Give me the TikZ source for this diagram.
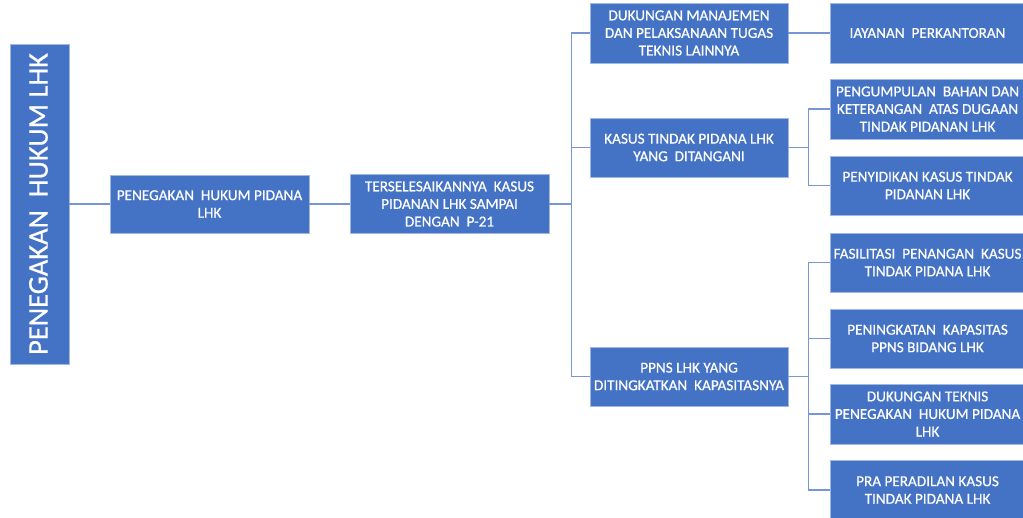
\documentclass[tikz,border=0pt]{standalone}
\usepackage{fontspec}
\setmainfont[FakeBold=0.6]{Carlito}
\definecolor{boxblue}{RGB}{68,114,196}
\definecolor{edgeblue}{RGB}{160,185,228}
\definecolor{linkblue}{RGB}{120,150,212}
\begin{document}
\begin{tikzpicture}[x=1pt,y=-1pt,
  box/.style={fill=boxblue,draw=edgeblue,line width=0.8pt,text=white,align=center,
    inner sep=0pt,font=\fontsize{15.2}{17.6}\selectfont},
  link/.style={draw=linkblue,line width=1.8pt}]
\useasboundingbox (0,0) rectangle (1023,517);
% root
\node[box,minimum width=59pt,minimum height=320pt] (root) at (39.5,204) {};
\node[text=white,rotate=90,font=\fontsize{28.5}{30}\selectfont] (roottxt) at ([xshift=-1pt]root.center) {PENEGAKAN\ \ HUKUM LHK};
% level 2, 3
\node[box,minimum width=199pt,minimum height=58pt] (b2) at (209.5,204) {PENEGAKAN\ \ HUKUM PIDANA\\LHK};
\node[box,minimum width=199pt,minimum height=59pt] (b3) at (449.5,204) {TERSELESAIKANNYA\ \ KASUS\\PIDANAN LHK SAMPAI\\DENGAN\ \ P-21};
% level 4
\node[box,minimum width=198pt,minimum height=60pt] (b4a) at (689,33) {DUKUNGAN MANAJEMEN\\DAN PELAKSANAAN TUGAS\\TEKNIS LAINNYA};
\node[box,minimum width=198pt,minimum height=59pt] (b4b) at (689,147.5) {KASUS TINDAK PIDANA LHK\\YANG\ \ DITANGANI};
\node[box,minimum width=198pt,minimum height=59pt] (b4c) at (689,376.5) {PPNS LHK YANG\\DITINGKATKAN\ \ KAPASITASNYA};
% level 5
\node[box,minimum width=195pt,minimum height=60pt] (c1) at (927.5,33) {IAYANAN\ \ PERKANTORAN};
\node[box,minimum width=195pt,minimum height=60pt] (c2) at (927.5,109) {PENGUMPULAN\ \ BAHAN\ DAN\\KETERANGAN\ \ ATAS\ DUGAAN\\TINDAK PIDANAN LHK};
\node[box,minimum width=195pt,minimum height=59pt] (c3) at (927.5,185.5) {PENYIDIKAN KASUS\ TINDAK\\PIDANAN LHK};
\node[box,minimum width=195pt,minimum height=59pt] (c4) at (927.5,262.5) {FASILITASI\ \ PENANGAN\ \ KASUS\\TINDAK PIDANA LHK};
\node[box,minimum width=195pt,minimum height=59pt] (c5) at (927.5,338.5) {PENINGKATAN\ \ KAPASITAS\\PPNS BIDANG LHK};
\node[box,minimum width=195pt,minimum height=60pt] (c6) at (927.5,414) {DUKUNGAN TEKNIS\\PENEGAKAN\ \ HUKUM PIDANA\\LHK};
\node[box,minimum width=195pt,minimum height=60pt] (c7) at (927.5,490) {PRA PERADILAN KASUS\\TINDAK PIDANA LHK};
% connectors
\draw[link] (root.east) -- (b2.west);
\draw[link] (b2.east) -- (b3.west);
\draw[link] (b3.east) -- ++(22,0) |- (b4a.west);
\draw[link] (b3.east) -- ++(22,0) |- (b4b.west);
\draw[link] (b3.east) -- ++(22,0) |- (b4c.west);
\draw[link] (b4a.east) -- (c1.west);
\draw[link] (b4b.east) -- ++(20,0) |- (c2.west);
\draw[link] (b4b.east) -- ++(20,0) |- (c3.west);
\draw[link] (b4c.east) -- ++(20,0) |- (c4.west);
\draw[link] (b4c.east) -- ++(20,0) |- (c5.west);
\draw[link] (b4c.east) -- ++(20,0) |- (c6.west);
\draw[link] (b4c.east) -- ++(20,0) |- (c7.west);
\end{tikzpicture}
\end{document}
